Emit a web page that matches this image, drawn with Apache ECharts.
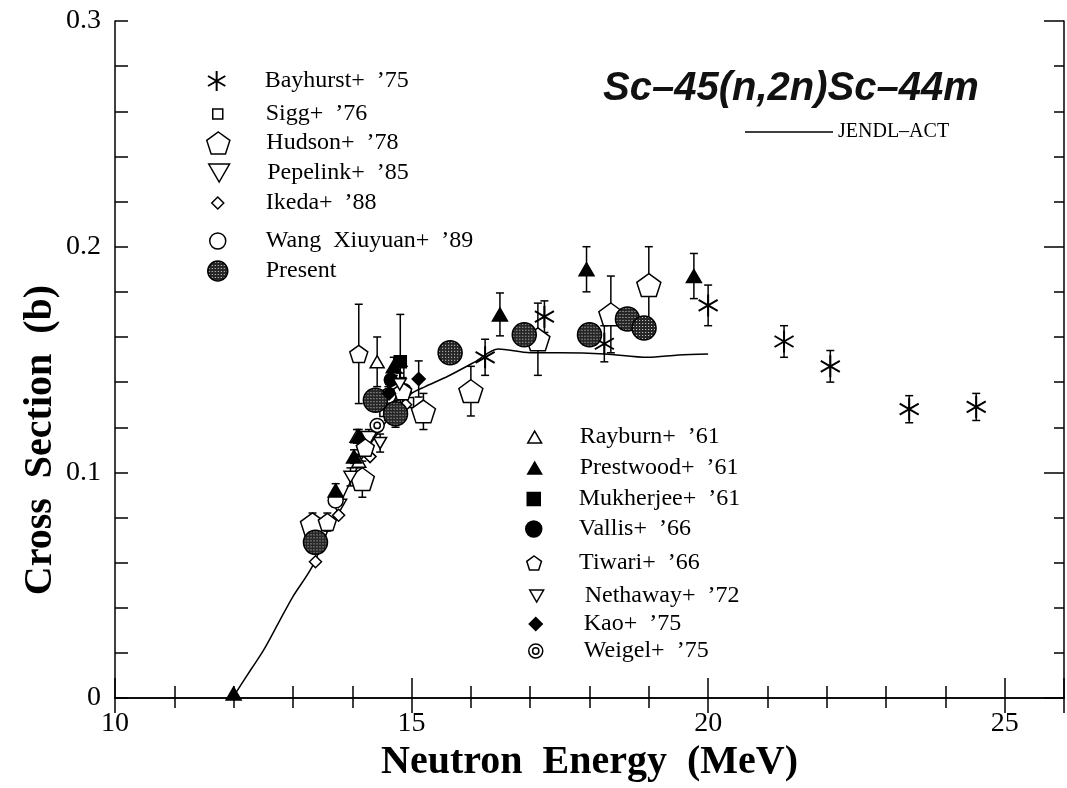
<!DOCTYPE html>
<html>
<head>
<meta charset="utf-8">
<title>Sc-45(n,2n)Sc-44m</title>
<script src="https://cdn.jsdelivr.net/npm/echarts@6/dist/echarts.min.js"></script>
<style>
html, body { margin: 0; padding: 0; background: #fff; }
#chart { width: 1067px; height: 788px; }
</style>
</head>
<body>
<div id="chart"></div>
<script>
// 数据: [能量 MeV, 截面 b, 误差 b]
var bayhurst = [[16.24, 0.151, 0.008], [17.24, 0.169, 0.007], [18.25, 0.157, 0.008], [20.0, 0.174, 0.009],
    [21.28, 0.158, 0.007], [22.06, 0.147, 0.007], [23.39, 0.128, 0.006], [24.52, 0.129, 0.006]];
var sigg = [[14.55, 0.127, 0], [14.95, 0.131, 0]];
var hudson = [[13.33, 0.077, 0.005], [14.17, 0.097, 0.008], [15.2, 0.127, 0.008], [16.0, 0.136, 0.011],
    [17.13, 0.159, 0.016], [18.36, 0.170, 0.017], [19.0, 0.183, 0.017]];
var pepelink = [[13.77, 0.085, 0.003], [14.28, 0.115, 0.004], [14.6, 0.128, 0.005]];
var ikeda = [[13.38, 0.0604, 0], [13.77, 0.081, 0], [14.3, 0.107, 0], [14.9, 0.130, 0]];
var wang = [[13.72, 0.0876, 0.003], [14.61, 0.134, 0.004], [14.87, 0.136, 0.011]];
var present = [[13.38, 0.069, 0], [14.39, 0.132, 0], [14.73, 0.126, 0.006], [15.65, 0.153, 0],
    [16.9, 0.161, 0], [18.0, 0.161, 0], [18.64, 0.168, 0], [18.92, 0.164, 0]];
var rayburn = [[14.08, 0.116, 0.003], [14.11, 0.105, 0.003], [14.42, 0.149, 0.011]];
var prestwood = [[12.0, 0.002, 0], [13.72, 0.092, 0.003], [14.03, 0.107, 0.003], [14.11, 0.116, 0.003],
    [14.7, 0.147, 0.004], [16.49, 0.170, 0.0095], [17.95, 0.190, 0.01], [19.76, 0.187, 0.01]];
var mukherjee = [[14.81, 0.149, 0.021]];
var vallis = [[14.65, 0.141, 0.004]];
var tiwari = [[13.58, 0.078, 0.004], [14.11, 0.1525, 0.022], [14.22, 0.111, 0.004], [14.85, 0.136, 0.006]];
var nethaway = [[13.97, 0.098, 0.004], [14.47, 0.113, 0.004], [14.8, 0.139, 0.005]];
var kao = [[14.62, 0.135, 0.004], [15.12, 0.1414, 0.008]];
var weigel = [[14.42, 0.1208, 0]];

// JENDL-ACT 评价曲线
var jendlAct = [[11.98, 0], [12.3, 0.013], [12.5, 0.021], [12.77, 0.034], [13.0, 0.045], [13.32, 0.058],
    [13.6, 0.075], [13.9, 0.092], [14.2, 0.108], [14.5, 0.12], [14.8, 0.13], [15.0, 0.135], [15.23, 0.138],
    [15.62, 0.1427], [16.07, 0.149], [16.46, 0.1547], [17.0, 0.153], [17.5, 0.153], [18.26, 0.1525],
    [18.98, 0.151], [19.5, 0.152], [20.0, 0.1525]];

var xTicks = [10, 15, 20, 25];
var xMax = 26;
var yTicks = [0, 0.1, 0.2, 0.3];

var SERIF = 'Liberation Serif';
var SYM = {
    asterisk: 'path://M0,-10L0,10M-8.66,-5L8.66,5M-8.66,5L8.66,-5',
    square: 'path://M0,0L10,0L10,10L0,10Z',
    pentagon: 'path://M0,-10L9.51,-3.09L5.88,8.09L-5.88,8.09L-9.51,-3.09Z',
    triangle: 'path://M0,-10L8.66,5L-8.66,5Z',
    triDown: 'path://M-8.66,-5L8.66,-5L0,10Z',
    diamond: 'path://M0,-10L10,0L0,10L-10,0Z',
    bullseye: 'path://M-10,0A10,10,0,1,0,10,0A10,10,0,1,0,-10,0ZM-4.5,0A4.5,4.5,0,1,0,4.5,0A4.5,4.5,0,1,0,-4.5,0Z'
};

// 点状填充 (Present)
var dots = document.createElement('canvas');
dots.width = 3; dots.height = 3;
var dctx = dots.getContext('2d');
dctx.fillStyle = '#262626';
dctx.fillRect(0, 0, 3, 3);
dctx.fillStyle = '#d8d8d8';
dctx.fillRect(1, 1, 1, 1);
var PRESENT_SIZE = 24;
// 散点符号按 symbolSize/2 缩放，图案需反向缩放
var dotFill = {image: dots, repeat: 'repeat', scaleX: 2 / PRESENT_SIZE, scaleY: 2 / PRESENT_SIZE};
var dotFillLegend = {image: dots, repeat: 'repeat'};

function scatter(name, data, symbol, size, fill, lw) {
    return {
        name: name,
        type: 'scatter',
        data: data.map(function (d) { return [d[0], d[1]]; }),
        symbol: symbol,
        symbolSize: size,
        symbolKeepAspect: true,
        z: 3,
        itemStyle: {color: fill, borderColor: '#000', borderWidth: lw || 1.5, opacity: 1}
    };
}

function errorBars(data) {
    return {
        type: 'custom',
        silent: true,
        z: 2,
        data: data.filter(function (d) { return d[2] > 0; }),
        encode: {x: 0, y: 1},
        renderItem: function (params, api) {
            var x = api.value(0), y = api.value(1), e = api.value(2);
            var top = api.coord([x, y + e]);
            var bot = api.coord([x, y - e]);
            var st = {stroke: '#000', lineWidth: 1.5};
            return {
                type: 'group',
                children: [
                    {type: 'line', shape: {x1: top[0], y1: top[1], x2: bot[0], y2: bot[1]}, style: st},
                    {type: 'line', shape: {x1: top[0] - 4, y1: top[1], x2: top[0] + 4, y2: top[1]}, style: st},
                    {type: 'line', shape: {x1: bot[0] - 4, y1: bot[1], x2: bot[0] + 4, y2: bot[1]}, style: st}
                ]
            };
        }
    };
}

// 每个图例单独放置; 图例框按图标实际外框定位
function legendAt(name, cx, cy, size, textX, style, lw) {
    var w = 2 * (textX - 5 - cx);
    var h = Math.max(size, 24);
    return {
        data: [style ? {name: name, itemStyle: style} : name],
        left: cx - size / 2,
        top: cy - h / 2,
        padding: 0,
        itemWidth: w,
        itemHeight: size,
        selectedMode: false,
        itemStyle: {borderWidth: lw || 1.5},
        textStyle: {fontFamily: SERIF, fontSize: 24, lineHeight: 24, color: '#000'}
    };
}

var groups = [
    ['Bayhurst+  ’75', bayhurst, SYM.asterisk, 22, 'transparent', 2],
    ['Sigg+  ’76', sigg, SYM.square, 10, '#fff'],
    ['Hudson+  ’78', hudson, SYM.pentagon, 24, '#fff'],
    ['Pepelink+  ’85', pepelink, SYM.triDown, 16, '#fff'],
    ['Ikeda+  ’88', ikeda, SYM.diamond, 12, '#fff'],
    ['Wang  Xiuyuan+  ’89', wang, 'circle', 15, '#fff'],
    ['Present', present, 'circle', PRESENT_SIZE, dotFill],
    ['Rayburn+  ’61', rayburn, SYM.triangle, 14, '#fff'],
    ['Prestwood+  ’61', prestwood, SYM.triangle, 15, '#000'],
    ['Mukherjee+  ’61', mukherjee, SYM.square, 12, '#000'],
    ['Vallis+  ’66', vallis, 'circle', 13, '#000'],
    ['Tiwari+  ’66', tiwari, SYM.pentagon, 18, '#fff'],
    ['Nethaway+  ’72', nethaway, SYM.triDown, 13, '#fff'],
    ['Kao+  ’75', kao, SYM.diamond, 13, '#000'],
    ['Weigel+  ’75', weigel, SYM.bullseye, 14, '#fff']
];

var series = [{
    name: 'JENDL–ACT',
    type: 'line',
    data: jendlAct,
    showSymbol: false,
    symbol: 'none',
    smooth: 0.3,
    z: 1,
    itemStyle: {color: '#000'},
    lineStyle: {color: '#000', width: 1.5}
}];
groups.forEach(function (g) {
    series.push(errorBars(g[1]));
});
groups.forEach(function (g) {
    series.push(scatter(g[0], g[1], g[2], g[3], g[4], g[5]));
});

var legendIcon = [20, 10, 22, 18, 12, 16, 20, 12, 12, 13, 16, 14, 12, 13, 14];
var legendY = [81, 114, 143, 173, 203, 241, 271, 437, 468, 499, 529, 563, 596, 624, 651];
var legends = groups.map(function (g, i) {
    if (i === 6) return legendAt(g[0], 217, legendY[i], legendIcon[i], 265, {color: dotFillLegend});
    if (i < 7) return legendAt(g[0], 217, legendY[i], legendIcon[i], 265, null, g[5]);
    if (i < 12) return legendAt(g[0], 533, legendY[i], legendIcon[i], 578);
    return legendAt(g[0], 535, legendY[i], legendIcon[i], 583);
});
legends.push({
    data: [{name: 'JENDL–ACT', icon: 'rect', itemStyle: {color: '#000', borderWidth: 0}}],
    left: 745,
    top: 122,
    padding: 0,
    itemWidth: 88,
    itemHeight: 1.5,
    selectedMode: false,
    textStyle: {fontFamily: SERIF, fontSize: 20, color: '#000'}
});

var axisLine = {show: true, lineStyle: {color: '#000', width: 1.5}};
var tickStyle = {color: '#000', width: 1.5};

var myChart = echarts.init(document.getElementById('chart'));
var option = {
    animation: false,
    backgroundColor: '#fff',
    title: {
        text: 'Sc–45(n,2n)Sc–44m',
        left: 603,
        top: 69,
        padding: 0,
        textStyle: {fontFamily: 'Liberation Sans', fontStyle: 'italic', fontWeight: 'bold', fontSize: 40, color: '#111'}
    },
    legend: legends,
    grid: {left: 115, top: 21, width: 956, height: 679},
    xAxis: [{
        type: 'value',
        position: 'bottom',
        min: xTicks[0],
        max: xMax,
        interval: xTicks[1] - xTicks[0],
        axisLine: axisLine,
        axisTick: {inside: true, length: 20, lineStyle: tickStyle},
        minorTick: {show: true, splitNumber: 5, length: 12, lineStyle: tickStyle},
        splitLine: {show: false},
        axisLabel: {
            margin: 12, color: '#000', fontFamily: SERIF, fontSize: 28,
            formatter: function (v) { return xTicks.indexOf(v) >= 0 ? String(v) : ''; }
        },
        name: 'Neutron  Energy  (MeV)',
        nameLocation: 'middle',
        nameGap: 44,
        nameTextStyle: {fontFamily: SERIF, fontWeight: 'bold', fontSize: 40, color: '#000'}
    }, {
        type: 'value',
        position: 'top',
        min: xTicks[0],
        max: xMax,
        interval: xTicks[1] - xTicks[0],
        axisLine: axisLine,
        axisTick: {inside: true, length: 15, lineStyle: tickStyle},
        minorTick: {show: true, splitNumber: 5, length: 10, lineStyle: tickStyle},
        splitLine: {show: false},
        axisLabel: {show: false}
    }],
    yAxis: [{
        type: 'value',
        position: 'left',
        min: yTicks[0],
        max: yTicks[yTicks.length - 1],
        interval: yTicks[1] - yTicks[0],
        axisLine: axisLine,
        axisTick: {inside: true, length: 13, lineStyle: tickStyle},
        minorTick: {show: true, splitNumber: 5, length: 13, lineStyle: tickStyle},
        splitLine: {show: false},
        axisLabel: {
            margin: 14, color: '#000', fontFamily: SERIF, fontSize: 28, padding: [0, 0, 8, 0],
            formatter: function (v) { return String(Math.round(v * 10) / 10); }
        }
    }, {
        type: 'value',
        position: 'right',
        min: yTicks[0],
        max: yTicks[yTicks.length - 1],
        interval: yTicks[1] - yTicks[0],
        axisLine: axisLine,
        axisTick: {inside: true, length: 20, lineStyle: tickStyle},
        minorTick: {show: true, splitNumber: 5, length: 10, lineStyle: tickStyle},
        splitLine: {show: false},
        axisLabel: {show: false}
    }],
    graphic: [{
        type: 'text',
        x: 41,
        y: 440,
        rotation: Math.PI / 2,
        style: {
            text: 'Cross  Section  (b)',
            fontFamily: SERIF, fontWeight: 'bold', fontSize: 40, fill: '#000',
            align: 'center', verticalAlign: 'middle'
        }
    }],
    series: series
};

myChart.setOption(option);

window.addEventListener('resize', function () {
    myChart.resize();
});
</script>
</body>
</html>
